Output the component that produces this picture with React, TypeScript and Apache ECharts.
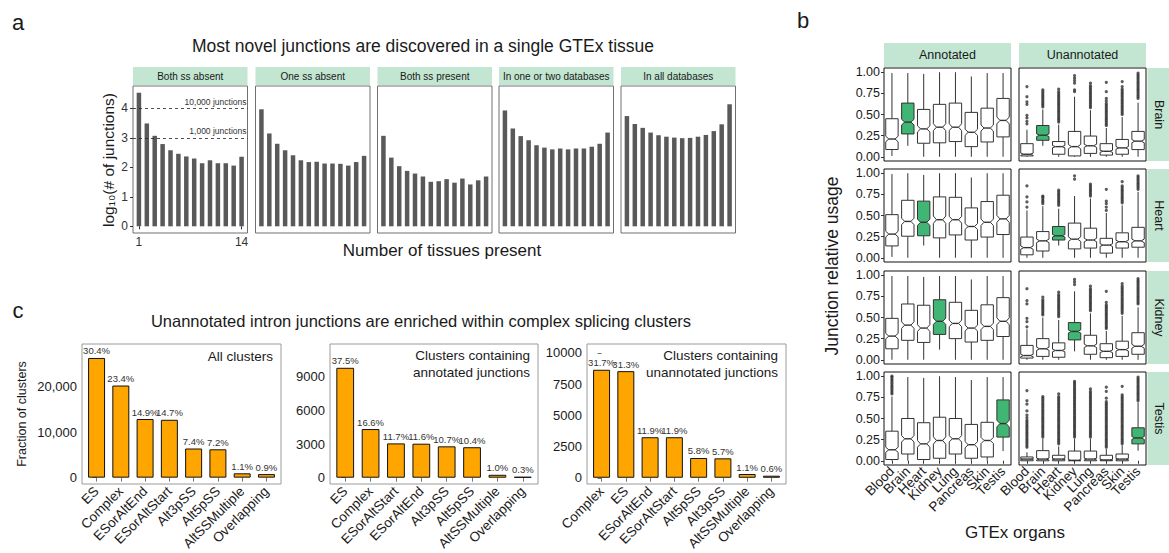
import React, { useEffect, useRef } from "react";
import * as echarts from "echarts";

const FONT = '"Liberation Sans", Arial, Helvetica, sans-serif';
const STRIP_FILL = "#c2e6d1";
const INK = "#1a1a1a";

// ---------- a: novel junctions by number of tissues ----------
const tissueCounts = [1, 2, 3, 4, 5, 6, 7, 8, 9, 10, 11, 12, 13, 14];
const junctionFacets = ["Both ss absent", "One ss absent", "Both ss present", "In one or two databases", "In all databases"];
const logBothAbsent = [4.53, 3.49, 3.07, 2.79, 2.58, 2.46, 2.37, 2.3, 2.14, 2.24, 2.14, 2.14, 2.06, 2.36];
const logOneAbsent = [3.97, 3.15, 2.8, 2.58, 2.41, 2.24, 2.18, 2.19, 2.13, 2.13, 2.12, 2.06, 2.18, 2.39];
const logBothPresent = [3.07, 2.33, 2.04, 1.88, 1.79, 1.69, 1.51, 1.53, 1.6, 1.48, 1.62, 1.42, 1.56, 1.69];
const logSomeDatabases = [3.93, 3.32, 3.06, 2.92, 2.75, 2.67, 2.61, 2.64, 2.61, 2.64, 2.64, 2.7, 2.8, 3.18];
const logAllDatabases = [3.74, 3.47, 3.34, 3.18, 3.09, 3.04, 3.01, 2.99, 3.0, 3.04, 3.1, 3.23, 3.46, 4.14];
const logTicks = [0, 1, 2, 3, 4];
const referenceJunctions = [10000, 1000];

// ---------- c: splicing cluster types ----------
const allTypes = ["ES", "Complex", "ESorAltEnd", "ESorAltStart", "Alt3pSS", "Alt5pSS", "AltSSMultiple", "Overlapping"];
const allCounts = [26370, 20300, 12920, 12750, 6420, 6245, 954, 780];
const allPct = ["30.4%", "23.4%", "14.9%", "14.7%", "7.4%", "7.2%", "1.1%", "0.9%"];
const annotatedTypes = ["ES", "Complex", "ESorAltStart", "ESorAltEnd", "Alt3pSS", "Alt5pSS", "AltSSMultiple", "Overlapping"];
const annotatedCounts = [9790, 4335, 3056, 3030, 2795, 2716, 261, 78];
const annotatedPct = ["37.5%", "16.6%", "11.7%", "11.6%", "10.7%", "10.4%", "1.0%", "0.3%"];
const unannotatedTypes = ["Complex", "ES", "ESorAltEnd", "ESorAltStart", "Alt5pSS", "Alt3pSS", "AltSSMultiple", "Overlapping"];
const unannotatedCounts = [8650, 8540, 3247, 3247, 1583, 1556, 300, 164];
const unannotatedPct = ["31.7%", "31.3%", "11.9%", "11.9%", "5.8%", "5.7%", "1.1%", "0.6%"];
const allTicks = [0, 10000, 20000];
const annotatedTicks = [0, 3000, 6000, 9000];
const unannotatedTicks = [0, 2500, 5000, 7500, 10000];

// ---------- b: junction relative usage per organ ----------
const organs = ["Blood", "Brain", "Heart", "Kidney", "Lung", "Pancreas", "Skin", "Testis"];
const organRows = ["Brain", "Heart", "Kidney", "Testis"];
const annotationColumns = ["Annotated", "Unannotated"];
const usageTicks = [0, 0.25, 0.5, 0.75, 1];

// [lower whisker, q1, median, q3, upper whisker]
const annotatedBrain = [
  [0.01, 0.086, 0.21, 0.45, 0.99], [0.13, 0.27, 0.41, 0.635, 0.99], [0, 0.16, 0.33, 0.56, 0.98], [0, 0.165, 0.35, 0.62, 1.0],
  [0, 0.18, 0.35, 0.635, 1.0], [0, 0.12, 0.29, 0.525, 0.95], [0, 0.175, 0.34, 0.575, 0.99], [0, 0.235, 0.43, 0.69, 0.99],
];
const annotatedHeart = [
  [0.01, 0.14, 0.28, 0.51, 0.99], [0, 0.255, 0.43, 0.68, 1.0], [0.145, 0.26, 0.42, 0.67, 0.98], [0, 0.235, 0.45, 0.72, 1.0],
  [0, 0.27, 0.45, 0.715, 1.0], [0, 0.21, 0.37, 0.59, 0.95], [0, 0.245, 0.42, 0.665, 1.0], [0, 0.275, 0.46, 0.74, 1.0],
];
const annotatedKidney = [
  [0, 0.13, 0.28, 0.49, 0.99], [0, 0.23, 0.41, 0.66, 0.99], [0, 0.205, 0.375, 0.645, 0.98], [0.12, 0.3, 0.455, 0.71, 0.99],
  [0, 0.25, 0.43, 0.68, 0.99], [0, 0.21, 0.375, 0.585, 0.95], [0, 0.23, 0.395, 0.65, 0.99], [0, 0.275, 0.455, 0.735, 0.99],
];
const annotatedTestis = [
  [0, 0.015, 0.13, 0.35, 0.76], [0, 0.08, 0.26, 0.5, 0.99], [0, 0.015, 0.2, 0.45, 0.98], [0, 0.03, 0.24, 0.515, 1.0],
  [0, 0.08, 0.26, 0.5, 0.99], [0, 0.03, 0.19, 0.43, 0.955], [0, 0.045, 0.24, 0.455, 0.99], [0.115, 0.28, 0.44, 0.72, 0.99],
];
const unannotatedBrain = [
  [0, 0.01, 0.03, 0.155, 0.32], [0.13, 0.195, 0.255, 0.37, 0.56], [0, 0.03, 0.12, 0.18, 0.38], [0, 0.01, 0.12, 0.3, 0.71],
  [0, 0.04, 0.13, 0.245, 0.55], [0, 0.02, 0.065, 0.155, 0.34], [0, 0.03, 0.105, 0.205, 0.47], [0, 0.085, 0.185, 0.3, 0.64],
];
const unannotatedHeart = [
  [0, 0.035, 0.12, 0.245, 0.56], [0, 0.08, 0.2, 0.31, 0.61], [0.145, 0.21, 0.26, 0.37, 0.58], [0, 0.105, 0.22, 0.41, 0.73],
  [0, 0.115, 0.21, 0.35, 0.7], [0, 0.055, 0.15, 0.23, 0.53], [0, 0.115, 0.19, 0.295, 0.62], [0, 0.125, 0.2, 0.36, 0.78],
];
const unannotatedKidney = [
  [0, 0.02, 0.05, 0.17, 0.36], [0, 0.04, 0.13, 0.25, 0.5], [0, 0.03, 0.11, 0.2, 0.47], [0.1, 0.235, 0.335, 0.44, 0.81],
  [0, 0.065, 0.165, 0.29, 0.55], [0, 0.025, 0.1, 0.19, 0.34], [0, 0.04, 0.12, 0.22, 0.52], [0, 0.065, 0.16, 0.32, 0.62],
];
const unannotatedTestis = [
  [0, 0, 0.02, 0.045, 0.1], [0, 0, 0.02, 0.12, 0.26], [0, 0, 0.02, 0.065, 0.17], [0, 0, 0.005, 0.115, 0.26],
  [0, 0, 0.02, 0.115, 0.26], [0, 0, 0.01, 0.065, 0.14], [0, 0, 0.02, 0.08, 0.18], [0.12, 0.2, 0.27, 0.39, 0.69],
];

const noOutliers = [[], [], [], [], [], [], [], []];
const outAnnotatedTestis = [
  [0.79, 0.81, 0.83, 0.85, 0.87, 0.89, 0.91, 0.93, 0.95, 0.97, 0.99, 1.0], [], [], [], [], [], [], [],
];
const outUnannotatedBrain = [
  [0.39, 0.42, 0.46, 0.49, 0.62, 0.65, 0.71, 0.83],
  [0.59, 0.61, 0.63, 0.65, 0.67, 0.69, 0.71, 0.73, 0.75, 0.77, 0.79],
  [0.41, 0.43, 0.45, 0.47, 0.49, 0.51, 0.53, 0.55, 0.57, 0.59, 0.61, 0.63, 0.65, 0.67, 0.69, 0.71, 0.73, 0.75, 0.77, 0.8],
  [0.77, 0.79, 0.87, 0.9, 0.93, 0.96],
  [0.58, 0.6, 0.62, 0.64, 0.66, 0.68, 0.7, 0.72, 0.74, 0.76, 0.78, 0.8, 0.82, 0.84, 0.87],
  [0.37, 0.39, 0.41, 0.43, 0.45, 0.47, 0.49, 0.51, 0.53, 0.55, 0.57, 0.59, 0.61, 0.63, 0.66, 0.69, 0.77, 0.88],
  [0.5, 0.52, 0.54, 0.56, 0.58, 0.6, 0.62, 0.64, 0.66, 0.68, 0.7, 0.72, 0.74, 0.76, 0.78, 0.8, 0.83, 0.89],
  [0.69, 0.71, 0.73, 0.75, 0.77, 0.79, 0.81, 0.83, 0.85, 0.87, 0.89, 0.91, 0.93, 0.95, 0.97, 0.99],
];
const outUnannotatedHeart = [
  [0.6, 0.66, 0.72, 0.85],
  [0.64, 0.66, 0.68, 0.7, 0.72, 0.73],
  [0.62, 0.64, 0.66, 0.68, 0.7, 0.72, 0.74, 0.76, 0.78, 0.8],
  [0.93, 0.97],
  [0.73, 0.75, 0.77, 0.79, 0.81, 0.83, 0.85, 0.87],
  [0.56, 0.6, 0.64, 0.67, 0.81],
  [0.65, 0.67, 0.69, 0.71, 0.73, 0.75, 0.77, 0.79, 0.81, 0.83, 0.85, 0.9],
  [0.81, 0.83, 0.85, 0.87, 0.89, 0.91, 0.93, 0.95, 0.97],
];
const outUnannotatedKidney = [
  [0.39, 0.45, 0.49, 0.66, 0.7, 0.84],
  [0.53, 0.55, 0.57, 0.59, 0.61, 0.63, 0.65, 0.67, 0.69, 0.71, 0.74],
  [0.51, 0.53, 0.55, 0.57, 0.59, 0.61, 0.63, 0.65, 0.67, 0.69, 0.71, 0.73, 0.75, 0.77, 0.8],
  [0.89, 0.92, 0.95],
  [0.58, 0.6, 0.62, 0.64, 0.66, 0.68, 0.7, 0.72, 0.74, 0.76, 0.78, 0.8, 0.82, 0.84, 0.87],
  [0.37, 0.39, 0.41, 0.43, 0.45, 0.47, 0.49, 0.51, 0.53, 0.55, 0.57, 0.59, 0.61, 0.63, 0.65, 0.68, 0.81],
  [0.55, 0.57, 0.59, 0.61, 0.63, 0.65, 0.67, 0.69, 0.71, 0.73, 0.75, 0.77, 0.79, 0.81, 0.83, 0.85, 0.87, 0.9],
  [0.66, 0.68, 0.7, 0.72, 0.74, 0.76, 0.78, 0.8, 0.82, 0.84, 0.86, 0.88, 0.9, 0.92, 0.94, 0.96],
];
const outUnannotatedTestis = [
  [0.16, 0.18, 0.2, 0.22, 0.24, 0.26, 0.28, 0.3, 0.32, 0.34, 0.36, 0.38, 0.4, 0.42, 0.44, 0.46, 0.48, 0.51, 0.54, 0.59, 0.67, 0.71, 0.83],
  [0.28, 0.3, 0.32, 0.34, 0.36, 0.38, 0.4, 0.42, 0.44, 0.46, 0.48, 0.5, 0.52, 0.54, 0.56, 0.58, 0.6, 0.62, 0.64, 0.66, 0.68, 0.7, 0.72, 0.74, 0.76],
  [0.2, 0.22, 0.24, 0.26, 0.28, 0.3, 0.32, 0.34, 0.36, 0.38, 0.4, 0.42, 0.44, 0.46, 0.48, 0.5, 0.52, 0.54, 0.56, 0.58, 0.6, 0.62, 0.64, 0.66, 0.68, 0.7, 0.72, 0.74, 0.76, 0.79],
  [0.28, 0.3, 0.32, 0.34, 0.36, 0.38, 0.4, 0.42, 0.44, 0.46, 0.48, 0.5, 0.52, 0.54, 0.56, 0.58, 0.6, 0.62, 0.64, 0.66, 0.68, 0.7, 0.72, 0.74, 0.76, 0.78, 0.8, 0.82, 0.84, 0.86, 0.88, 0.9, 0.92, 0.94],
  [0.28, 0.3, 0.32, 0.34, 0.36, 0.38, 0.4, 0.42, 0.44, 0.46, 0.48, 0.5, 0.52, 0.54, 0.56, 0.58, 0.6, 0.62, 0.64, 0.66, 0.68, 0.7, 0.72, 0.74, 0.76, 0.78, 0.8, 0.82, 0.85],
  [0.16, 0.18, 0.2, 0.22, 0.24, 0.26, 0.28, 0.3, 0.32, 0.34, 0.36, 0.38, 0.4, 0.42, 0.44, 0.46, 0.48, 0.5, 0.52, 0.54, 0.56, 0.58, 0.6, 0.62, 0.64, 0.66, 0.68, 0.7, 0.74, 0.82, 0.87],
  [0.2, 0.22, 0.24, 0.26, 0.28, 0.3, 0.32, 0.34, 0.36, 0.38, 0.4, 0.42, 0.44, 0.46, 0.48, 0.5, 0.52, 0.54, 0.56, 0.58, 0.6, 0.62, 0.64, 0.66, 0.68, 0.7, 0.72, 0.74, 0.76, 0.78, 0.88],
  [0.71, 0.73, 0.75, 0.77, 0.79, 0.81, 0.83, 0.85, 0.87, 0.89, 0.91, 0.93, 0.95, 0.97, 0.99],
];

const usageBoxes = [
  [annotatedBrain, unannotatedBrain],
  [annotatedHeart, unannotatedHeart],
  [annotatedKidney, unannotatedKidney],
  [annotatedTestis, unannotatedTestis],
];
const usageOutliers = [
  [noOutliers, outUnannotatedBrain],
  [noOutliers, outUnannotatedHeart],
  [noOutliers, outUnannotatedKidney],
  [outAnnotatedTestis, outUnannotatedTestis],
];

function label(text: string, x: number, y: number, size: number, opts: any = {}) {
  const align = opts.align || "center";
  return {
    type: "text",
    x,
    y,
    rotation: opts.rotation || 0,
    silent: true,
    z: 10,
    style: {
      text,
      x: 0,
      y: 0,
      fill: opts.color || INK,
      fontSize: size,
      fontFamily: FONT,
      lineHeight: opts.lineHeight,
      align,
      verticalAlign: "middle",
      textAlign: align,
      textVerticalAlign: "middle",
    },
  };
}

function strip(x: number, y: number, w: number, h: number) {
  return { type: "rect", silent: true, z: 5, shape: { x, y, width: w, height: h }, style: { fill: STRIP_FILL } };
}

function buildOption() {
  const grid: any[] = [];
  const xAxis: any[] = [];
  const yAxis: any[] = [];
  const series: any[] = [];
  const graphic: any[] = [];

  const tickStyle = { color: "#333", width: 1 };

  // ---------- panel a ----------
  const aValues = [logBothAbsent, logOneAbsent, logBothPresent, logSomeDatabases, logAllDatabases];
  const aLefts = [133, 255.5, 377.5, 499, 621];
  const aTop = 86;
  const aW = 114.5;
  const aH = 147;
  aValues.forEach((vals, i) => {
    const gi = grid.length;
    const first = i === 0;
    grid.push({ left: aLefts[i], top: aTop, width: aW, height: aH, show: true, borderColor: "#707070", borderWidth: 1 });
    xAxis.push({
      type: "value", gridIndex: gi, min: 0.25, max: 14.75,
      axisLine: { show: false }, splitLine: { show: false },
      axisTick: { show: first, length: 3, customValues: [1, 14], lineStyle: tickStyle },
      axisLabel: { show: first, customValues: [1, 14], showMinLabel: true, showMaxLabel: true, fontSize: 12, color: "#333", margin: 3, fontFamily: FONT },
    });
    yAxis.push({
      type: "value", gridIndex: gi, min: -0.227, max: 4.76,
      axisLine: { show: false }, splitLine: { show: false },
      axisTick: { show: first, length: 3, customValues: logTicks, lineStyle: tickStyle },
      axisLabel: { show: first, customValues: logTicks, fontSize: 12, color: "#333", margin: 5, fontFamily: FONT },
    });
    const s: any = {
      type: "bar", xAxisIndex: gi, yAxisIndex: gi,
      data: tissueCounts.map((t, k) => [t, vals[k]]),
      barWidth: 4.5, itemStyle: { color: "#595959" },
    };
    if (first) {
      s.markLine = {
        silent: true, symbol: "none",
        lineStyle: { type: [3, 3], color: "#222", width: 0.8 },
        label: { position: "insideEndTop", formatter: "{b}", fontSize: 8.5, color: "#333", fontFamily: FONT, distance: [1, 2] },
        data: referenceJunctions.map((n) => ({ yAxis: Math.log10(n), name: `${n.toLocaleString("en-US")} junctions` })),
      };
    }
    series.push(s);
    graphic.push(strip(aLefts[i], 67, aW, 18));
    graphic.push(label(junctionFacets[i], aLefts[i] + aW / 2, 76, 10));
  });
  graphic.push(label("a", 18, 22, 22));
  graphic.push(label("Most novel junctions are discovered in a single GTEx tissue", 423, 46, 17.5));
  graphic.push(label("log\u2081\u2080(# of junctions)", 108, 160, 15.5, { rotation: Math.PI / 2 }));
  graphic.push(label("Number of tissues present", 442, 250, 17));

  // ---------- panel c ----------
  const cDefs = [
    { left: 82, width: 199, min: -1400, max: 29450, ticks: allTicks, comma: true, types: allTypes, counts: allCounts, pct: allPct, note: "All clusters" },
    { left: 330, width: 208, min: -560, max: 11910, ticks: annotatedTicks, comma: false, types: annotatedTypes, counts: annotatedCounts, pct: annotatedPct, note: "Clusters containing\nannotated junctions" },
    { left: 587, width: 199, min: -500, max: 10714, ticks: unannotatedTicks, comma: false, types: unannotatedTypes, counts: unannotatedCounts, pct: unannotatedPct, note: "Clusters containing\nunannotated junctions" },
  ];
  const cTop = 344;
  const cH = 140;
  const cIdx = [0, 1, 2, 3, 4, 5, 6, 7];
  cDefs.forEach((d) => {
    const gi = grid.length;
    grid.push({ left: d.left, top: cTop, width: d.width, height: cH, show: true, borderColor: "#9a9a9a", borderWidth: 1 });
    xAxis.push({
      type: "value", gridIndex: gi, min: -0.6, max: 7.6,
      axisLine: { show: false }, splitLine: { show: false },
      axisTick: { show: true, length: 4, customValues: cIdx, lineStyle: { color: "#777" } },
      axisLabel: {
        customValues: cIdx, showMinLabel: true, showMaxLabel: true,
        formatter: (v: number) => d.types[Math.round(v)], rotate: 45, fontSize: 13.5, color: INK, margin: 5, fontFamily: FONT,
      },
    });
    yAxis.push({
      type: "value", gridIndex: gi, min: d.min, max: d.max,
      axisLine: { show: false }, splitLine: { show: false },
      axisTick: { show: true, length: 4, customValues: d.ticks, lineStyle: { color: "#777" } },
      axisLabel: {
        customValues: d.ticks, showMinLabel: true, showMaxLabel: true, fontSize: 13, color: INK, margin: 5, fontFamily: FONT,
        formatter: (v: number) => (d.comma ? v.toLocaleString("en-US") : String(v)),
      },
    });
    series.push({
      type: "bar", xAxisIndex: gi, yAxisIndex: gi,
      data: d.counts.map((c, k) => [k, c]),
      barWidth: (d.width / 8.2) * 0.7,
      itemStyle: { color: "#FFA500", borderColor: "#111", borderWidth: 1 },
      label: { show: true, position: "top", distance: 2, fontSize: 9.5, color: "#333", fontFamily: FONT, formatter: (p: any) => d.pct[p.dataIndex] },
    });
    graphic.push(label(d.note, d.left + d.width - 8, d.note.includes("\n") ? 364 : 356, 13.5, { align: "right", lineHeight: 16.5 }));
  });
  graphic.push(label("c", 18, 310, 22));
  graphic.push(label("Unannotated intron junctions are enriched within complex splicing clusters", 421, 321, 16.5));
  graphic.push(label("Fraction of clusters", 22, 414, 12.5, { rotation: Math.PI / 2 }));

  // ---------- panel b ----------
  const bLefts = [884, 1019];
  const bW = 127;
  const bTops = [68, 169, 271, 372];
  const bH = 93;
  organRows.forEach((rowName, r) => {
    const hl = organs.indexOf(rowName);
    annotationColumns.forEach((_, c) => {
      const gi = grid.length;
      const bottom = r === organRows.length - 1;
      grid.push({ left: bLefts[c], top: bTops[r], width: bW, height: bH, show: true, borderColor: "#111", borderWidth: 1 });
      xAxis.push({
        type: "category", gridIndex: gi, data: organs, boundaryGap: true,
        axisLine: { show: false }, splitLine: { show: false },
        axisTick: { show: bottom, length: 3, interval: 0, alignWithLabel: true, lineStyle: tickStyle },
        axisLabel: { show: bottom, interval: 0, rotate: 45, fontSize: 13.5, color: INK, margin: 4, fontFamily: FONT },
      });
      yAxis.push({
        type: "value", gridIndex: gi, min: -0.05, max: 1.05,
        axisLine: { show: false }, splitLine: { show: false },
        axisTick: { show: c === 0, length: 3, customValues: usageTicks, lineStyle: tickStyle },
        axisLabel: {
          show: c === 0, customValues: usageTicks, showMinLabel: true, showMaxLabel: true,
          formatter: (v: number) => v.toFixed(2), fontSize: 12.5, color: INK, margin: 4, fontFamily: FONT,
        },
      });
      const outs = usageOutliers[r][c];
      const pts: number[][] = [];
      outs.forEach((list: number[], k: number) => list.forEach((v) => pts.push([k, v])));
      series.push({
        type: "scatter", xAxisIndex: gi, yAxisIndex: gi, data: pts,
        symbolSize: 3.2, itemStyle: { color: "#333" }, silent: true, z: 2,
      });
      series.push({
        type: "custom", xAxisIndex: gi, yAxisIndex: gi, z: 3,
        data: usageBoxes[r][c].map((b: number[], k: number) => [k, ...b, k === hl ? 1 : 0]),
        encode: { x: 0, y: [1, 2, 3, 4, 5] },
        renderItem: (_p: any, api: any) => {
          const x = api.value(0);
          const lo = api.value(1), q1 = api.value(2), med = api.value(3), q3 = api.value(4), hi = api.value(5);
          const fill = api.value(6) ? "#41b573" : "#ffffff";
          const unit = api.size([1, 0])[0];
          const hw = unit * 0.39;
          const nw = hw * 0.5;
          const notch = 0.09 * (q3 - q1);
          const n1 = Math.max(q1, med - notch);
          const n2 = Math.min(q3, med + notch);
          const cx = api.coord([x, med])[0];
          const y = (v: number) => api.coord([x, v])[1];
          const stroke = { stroke: "#333", lineWidth: 1, fill: "none" };
          return {
            type: "group",
            children: [
              { type: "line", shape: { x1: cx, y1: y(lo), x2: cx, y2: y(q1) }, style: stroke },
              { type: "line", shape: { x1: cx, y1: y(q3), x2: cx, y2: y(hi) }, style: stroke },
              {
                type: "polygon",
                shape: {
                  points: [
                    [cx - hw, y(q1)], [cx - hw, y(n1)], [cx - nw, y(med)], [cx - hw, y(n2)], [cx - hw, y(q3)],
                    [cx + hw, y(q3)], [cx + hw, y(n2)], [cx + nw, y(med)], [cx + hw, y(n1)], [cx + hw, y(q1)],
                  ],
                },
                style: { fill, stroke: "#333", lineWidth: 1 },
              },
              { type: "line", shape: { x1: cx - nw, y1: y(med), x2: cx + nw, y2: y(med) }, style: { stroke: "#333", lineWidth: 1.4 } },
            ],
          };
        },
      });
      if (r === 0) {
        graphic.push(strip(bLefts[c], 43, bW, 24));
        graphic.push(label(annotationColumns[c], bLefts[c] + bW / 2, 55, 12.5));
      }
    });
    graphic.push(strip(1147.5, bTops[r], 25, bH));
    graphic.push(label(rowName, 1158.5, bTops[r] + bH / 2, 12.5, { rotation: -Math.PI / 2 }));
  });
  graphic.push(label("b", 803, 20, 22));
  graphic.push(label("Junction relative usage", 832, 266, 17.5, { rotation: Math.PI / 2 }));
  graphic.push(label("GTEx organs", 1015, 532, 17));

  return {
    animation: false,
    backgroundColor: "#ffffff",
    textStyle: { fontFamily: FONT },
    grid,
    xAxis,
    yAxis,
    series,
    graphic,
  };
}

export default function App() {
  const ref = useRef<HTMLDivElement>(null);
  useEffect(() => {
    if (!ref.current) return;
    const chart = echarts.init(ref.current, null, { renderer: "svg" });
    chart.setOption(buildOption() as any);
    return () => chart.dispose();
  }, []);
  return (
    <div
      ref={ref}
      style={{ position: "absolute", left: 0, top: 0, width: 1169, height: 553, background: "#fff" }}
    />
  );
}
